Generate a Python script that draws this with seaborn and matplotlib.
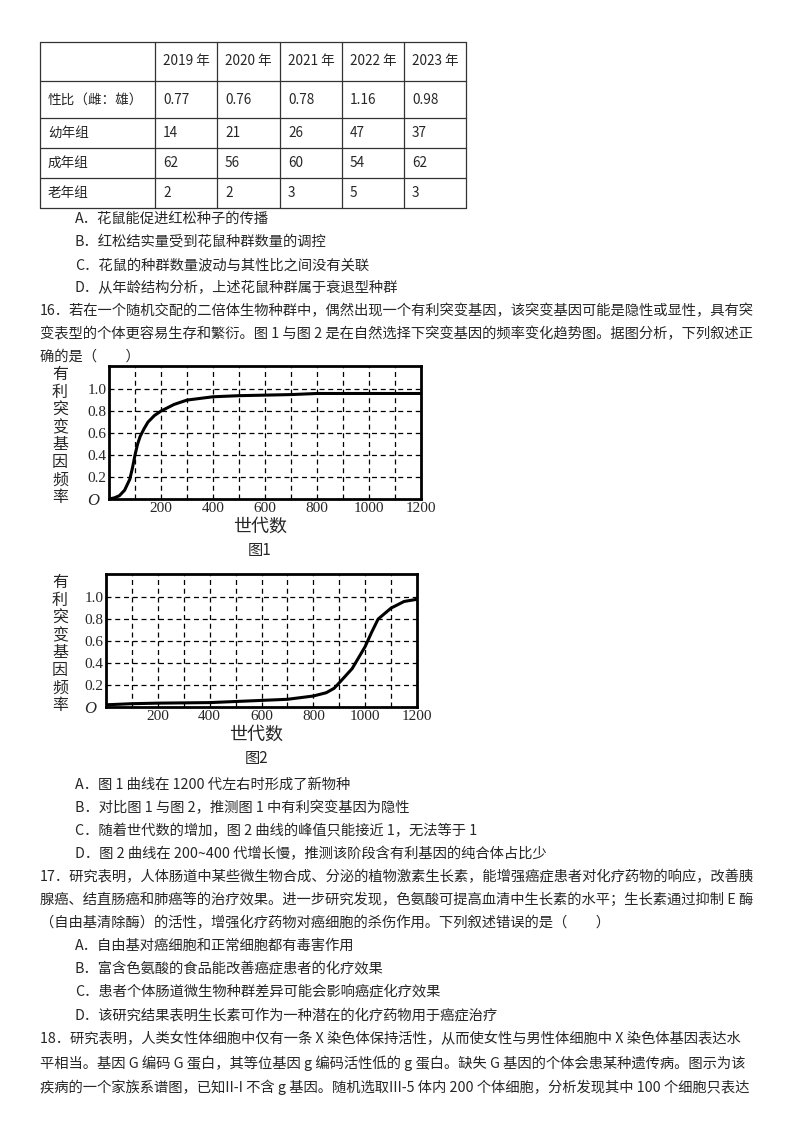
import matplotlib
matplotlib.use("Agg")
import matplotlib.pyplot as plt
import seaborn as sns
import pandas as pd

sns.set_style("white")
plt.rcParams['font.family'] = ['Noto Sans CJK SC', 'DejaVu Sans']

years = ["2019 年", "2020 年", "2021 年", "2022 年", "2023 年"]
row_labels = ["性比（雌：雄）", "幼年组", "成年组", "老年组"]
sex_ratio = ["0.77", "0.76", "0.78", "1.16", "0.98"]
young = ["14", "21", "26", "47", "37"]
adult = ["62", "56", "60", "54", "62"]
old = ["2", "2", "3", "5", "3"]

gen1 = [0, 20, 40, 60, 80, 90, 100, 110, 120, 135, 150, 175, 200, 250, 300, 400, 500, 600, 700, 800, 1200]
freq1 = [0, 0.01, 0.03, 0.08, 0.18, 0.28, 0.4, 0.5, 0.57, 0.64, 0.7, 0.76, 0.8, 0.86, 0.9, 0.93, 0.94, 0.945, 0.95, 0.96, 0.96]
gen2 = [0, 100, 200, 400, 500, 600, 700, 800, 850, 880, 900, 950, 1000, 1025, 1050, 1100, 1150, 1200]
freq2 = [0.02, 0.03, 0.035, 0.04, 0.05, 0.06, 0.07, 0.1, 0.13, 0.17, 0.22, 0.35, 0.55, 0.68, 0.8, 0.9, 0.96, 0.98]
x_ticks = [200, 400, 600, 800, 1000, 1200]
y_ticks = [0.2, 0.4, 0.6, 0.8, 1.0]

W, H = 800, 1132
fig = plt.figure(figsize=(8, 11.32), dpi=100)
bg = fig.add_axes([0, 0, 1, 1])
bg.set_xlim(0, W); bg.set_ylim(H, 0); bg.axis("off")

cols = [40, 155, 217, 280, 342, 404, 466]
rows = [42, 81, 118, 148, 178, 208]
for x in cols:
    bg.plot([x, x], [rows[0], rows[-1]], color="#333", lw=0.9)
for y in rows:
    bg.plot([cols[0], cols[-1]], [y, y], color="#333", lw=0.9)
fs = 10.3
for j, yr in enumerate(years):
    bg.text(cols[j + 1] + 8, (rows[0] + rows[1]) / 2, yr, fontsize=fs - 0.5, va="center")
data_rows = [sex_ratio, young, adult, old]
for i, lab in enumerate(row_labels):
    yc = (rows[i + 1] + rows[i + 2]) / 2
    bg.text(cols[0] + 8, yc, lab, fontsize=fs - 0.5, va="center")
    for j, v in enumerate(data_rows[i]):
        bg.text(cols[j + 1] + 8, yc, v, fontsize=fs - 0.5, va="center")

lines = [
    (75, 219, "A．花鼠能促进红松种子的传播"),
    (75, 242, "B．红松结实量受到花鼠种群数量的调控"),
    (75, 265, "C．花鼠的种群数量波动与其性比之间没有关联"),
    (75, 288, "D．从年龄结构分析，上述花鼠种群属于衰退型种群"),
    (40, 311, "16．若在一个随机交配的二倍体生物种群中，偶然出现一个有利突变基因，该突变基因可能是隐性或显性，具有突"),
    (40, 334, "变表型的个体更容易生存和繁衍。图 1 与图 2 是在自然选择下突变基因的频率变化趋势图。据图分析，下列叙述正"),
    (40, 357, "确的是（　　）"),
    (75, 785, "A．图 1 曲线在 1200 代左右时形成了新物种"),
    (75, 808, "B．对比图 1 与图 2，推测图 1 中有利突变基因为隐性"),
    (75, 831, "C．随着世代数的增加，图 2 曲线的峰值只能接近 1，无法等于 1"),
    (75, 854, "D．图 2 曲线在 200~400 代增长慢，推测该阶段含有利基因的纯合体占比少"),
    (40, 877, "17．研究表明，人体肠道中某些微生物合成、分泌的植物激素生长素，能增强癌症患者对化疗药物的响应，改善胰"),
    (40, 900, "腺癌、结直肠癌和肺癌等的治疗效果。进一步研究发现，色氨酸可提高血清中生长素的水平；生长素通过抑制 E 酶"),
    (40, 923, "（自由基清除酶）的活性，增强化疗药物对癌细胞的杀伤作用。下列叙述错误的是（　　）"),
    (75, 946, "A．自由基对癌细胞和正常细胞都有毒害作用"),
    (75, 969, "B．富含色氨酸的食品能改善癌症患者的化疗效果"),
    (75, 992, "C．患者个体肠道微生物种群差异可能会影响癌症化疗效果"),
    (75, 1015, "D．该研究结果表明生长素可作为一种潜在的化疗药物用于癌症治疗"),
    (40, 1039, "18．研究表明，人类女性体细胞中仅有一条 X 染色体保持活性，从而使女性与男性体细胞中 X 染色体基因表达水"),
    (40, 1063, "平相当。基因 G 编码 G 蛋白，其等位基因 g 编码活性低的 g 蛋白。缺失 G 基因的个体会患某种遗传病。图示为该"),
    (40, 1087, "疾病的一个家族系谱图，已知II-I 不含 g 基因。随机选取III-5 体内 200 个体细胞，分析发现其中 100 个细胞只表达"),
]
for x, y, t in lines:
    bg.text(x, y, t, fontsize=fs, va="center")


def chart(left, right, top, bottom, gx, gy, cap, capy):
    ax = fig.add_axes([left / W, 1 - bottom / H, (right - left) / W, (bottom - top) / H])
    sns.lineplot(x=gx, y=gy, ax=ax, color="black", lw=2.2)
    ax.set_xlim(0, 1200); ax.set_ylim(0, 1.21)
    ax.set_xticks(x_ticks); ax.set_yticks(y_ticks)
    ax.set_xticklabels([str(v) for v in x_ticks], family="Liberation Serif", fontsize=11)
    ax.set_yticklabels([f"{v:.1f}" for v in y_ticks], family="Liberation Serif", fontsize=11)
    for v in range(100, 1200, 100):
        ax.axvline(v, color="black", ls=(0, (4, 3)), lw=0.9, zorder=0)
    for v in y_ticks:
        ax.axhline(v, color="black", ls=(0, (4, 3)), lw=0.9, zorder=0)
    ax.tick_params(length=0, pad=2)
    for s in ax.spines.values():
        s.set_linewidth(2); s.set_color("black")
    ax.set_xlabel(""); ax.set_ylabel("")
    bg.text(left - 10, bottom + 2, "O", fontsize=12, style="italic", family="Liberation Serif", ha="right", va="center")
    for k, ch in enumerate("有利突变基因频率"):
        bg.text(60, top + 9 + k * 17.5, ch, fontsize=11.5, ha="center", va="center")
    bg.text((left + right) / 2 - 5, bottom + 28, "世代数", fontsize=13, ha="center", va="center")
    bg.text((left + right) / 2 - 5, capy, cap, fontsize=11, ha="center", va="center")


chart(109, 421, 366, 499, gen1, freq1, "图1", 550)
chart(106, 417, 574, 707, gen2, freq2, "图2", 759)

fig.savefig("out.png", dpi=100, facecolor="white")
